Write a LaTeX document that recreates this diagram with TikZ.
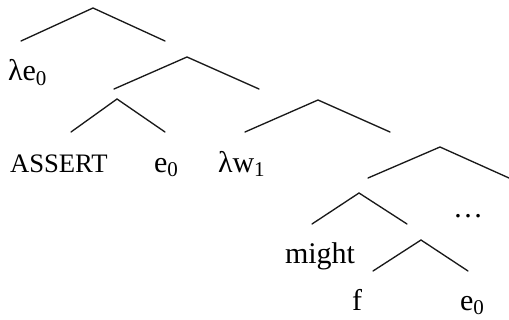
\documentclass[tikz,border=0pt]{standalone}
\usepackage{fontspec}
\setmainfont{Liberation Serif}
\usepackage{tikz}
\tikzset{
  brl/.style ={line width=1pt, draw=black!90, line cap=round, line join=miter},
  lbl/.style ={anchor=base west, inner sep=0pt, outer sep=0pt,
               font=\fontsize{22.5}{26}\selectfont},
  lbls/.style={lbl, font=\fontsize{20}{23}\selectfont},
}
\newcommand{\sub}[1]{\textsubscript{#1}}

\begin{document}
\begin{tikzpicture}[x=0.75pt, y=-0.75pt]
  \useasboundingbox (0,0) rectangle (509,320);
  % branch points
  \coordinate (t1) at (93,8);    \coordinate (t1l) at (21,41);   \coordinate (t1r) at (165,41);
  \coordinate (t2) at (187,57);  \coordinate (t2l) at (114,89);  \coordinate (t2r) at (259,89);
  \coordinate (t3) at (117,99);  \coordinate (t3l) at (71,132);  \coordinate (t3r) at (165,132);
  \coordinate (t4) at (318,100); \coordinate (t4l) at (245,132); \coordinate (t4r) at (390,132);
  \coordinate (t5) at (440,147); \coordinate (t5l) at (368,178); \coordinate (t5r) at (509,178);
  \coordinate (t6) at (359,193); \coordinate (t6l) at (312,224); \coordinate (t6r) at (407,224);
  \coordinate (t7) at (421,240); \coordinate (t7l) at (373,271); \coordinate (t7r) at (468,271);
  \foreach \t in {t1,t2,t3,t4,t5,t6,t7}
    \draw[brl] (\t l) -- (\t) -- (\t r);
  % leaves
  \node[lbl]  (lame)   at (8,81)    {λe\sub{0}};
  \node[lbls] (assert) at (10,172)  {ASSERT};
  \node[lbl]  (ea)     at (154,172) {e\sub{0}};
  \node[lbl]  (lamw)   at (218,172) {λw\sub{1}};
  \node[lbl]  (dots)   at (453,217) {\ldots};
  \node[lbl]  (might)  at (285,263) {might};
  \node[lbl]  (f)      at (352,310) {f};
  \node[lbl]  (eb)     at (460,310) {e\sub{0}};
\end{tikzpicture}
\end{document}
